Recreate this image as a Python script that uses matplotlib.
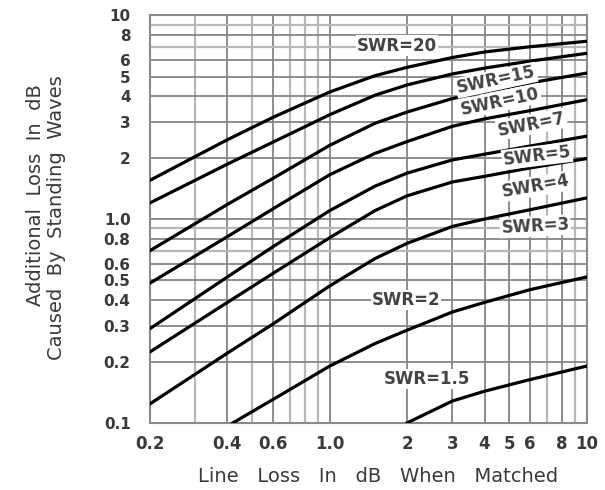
import numpy as np
import matplotlib
matplotlib.use('Agg')
import matplotlib.pyplot as plt
from matplotlib.ticker import FixedLocator, FixedFormatter, NullFormatter

# values (line loss when matched, dB -> additional loss, dB)
x_pts = [0.2, 0.4, 0.6, 1.0, 1.5, 2.0, 3.0, 4.0, 6.0, 10.0]
swr20 = [1.55, 2.45, 3.15, 4.2, 5.05, 5.55, 6.2, 6.6, 7.0, 7.45]
swr15 = [1.2, 1.86, 2.38, 3.25, 4.05, 4.55, 5.15, 5.5, 5.95, 6.5]
swr10 = [0.70, 1.18, 1.58, 2.3, 2.95, 3.35, 3.9, 4.2, 4.65, 5.2]
swr7 = [0.485, 0.82, 1.12, 1.65, 2.1, 2.4, 2.85, 3.1, 3.4, 3.85]
swr5 = [0.29, 0.52, 0.73, 1.1, 1.45, 1.68, 1.95, 2.08, 2.28, 2.55]
swr4 = [0.223, 0.39, 0.54, 0.81, 1.1, 1.3, 1.52, 1.62, 1.78, 1.98]
swr3 = [0.124, 0.22, 0.305, 0.47, 0.64, 0.76, 0.92, 1.0, 1.11, 1.27]
x_swr2 = [0.42, 0.6, 1.0, 1.5, 2.0, 3.0, 4.0, 6.0, 10.0]
swr2 = [0.1, 0.13, 0.19, 0.245, 0.285, 0.35, 0.39, 0.45, 0.52]
x_swr1_5 = [2.0, 3.0, 4.0, 6.0, 10.0]
swr1_5 = [0.1, 0.128, 0.143, 0.163, 0.19]

# label text, position (data coords), rotation
labels = ['SWR=20', 'SWR=15', 'SWR=10', 'SWR=7', 'SWR=5', 'SWR=4', 'SWR=3', 'SWR=2', 'SWR=1.5']
label_x = [1.83, 4.44, 4.6, 6.1, 6.4, 6.35, 6.3, 1.98, 2.39]
label_y = [7.1, 4.8, 3.78, 2.92, 2.04, 1.45, 0.92, 0.40, 0.164]
label_rot = [0, 12, 12, 11, 7, 10, 3, 0, 0]

xticks = [0.2, 0.4, 0.6, 1.0, 2, 3, 4, 5, 6, 8, 10]
xticklabels = ['0.2', '0.4', '0.6', '1.0', '2', '3', '4', '5', '6', '8', '10']
yticks = [0.1, 0.2, 0.3, 0.4, 0.5, 0.6, 0.8, 1.0, 2, 3, 4, 5, 6, 8, 10]
yticklabels = ['0.1', '0.2', '0.3', '0.4', '0.5', '0.6', '0.8', '1.0', '2', '3', '4', '5', '6', '8', '10']
minor_x = [0.3, 0.5, 0.7, 0.8, 0.9, 7, 9]
minor_y = [0.7, 0.9, 7, 9]

txtc = '#3a3a3a'
fig = plt.figure(figsize=(6.05, 4.9), dpi=100)
ax = fig.add_axes([0.248, 0.137, 0.722, 0.832])
ax.set_xscale('log')
ax.set_yscale('log')
ax.set_xlim(0.2, 10)
ax.set_ylim(0.1, 10)

# grid lines
for v in xticks:
    ax.axvline(v, color='#858585', lw=1.3, zorder=1)
for v in minor_x:
    ax.axvline(v, color='#b8b8b8', lw=1.6, zorder=1)
for v in yticks:
    ax.axhline(v, color='#858585', lw=1.3, zorder=1)
for v in minor_y:
    ax.axhline(v, color='#b8b8b8', lw=1.6, zorder=1)

for ys in [swr20, swr15, swr10, swr7, swr5, swr4, swr3]:
    ax.plot(x_pts, ys, color='black', lw=2.3, zorder=3)
ax.plot(x_swr2, swr2, color='black', lw=2.3, zorder=3)
ax.plot(x_swr1_5, swr1_5, color='black', lw=2.3, zorder=3)

for t, lx, ly, r in zip(labels, label_x, label_y, label_rot):
    ax.text(lx, ly, t, ha='center', va='center', rotation=r, fontsize=12,
            fontweight='bold', color='#444444', zorder=4,
            bbox=dict(facecolor='white', edgecolor='none', pad=0.8))

ax.xaxis.set_major_locator(FixedLocator(xticks))
ax.xaxis.set_major_formatter(FixedFormatter(xticklabels))
ax.xaxis.set_minor_formatter(NullFormatter())
ax.yaxis.set_major_locator(FixedLocator(yticks))
ax.yaxis.set_major_formatter(FixedFormatter(yticklabels))
ax.yaxis.set_minor_formatter(NullFormatter())
ax.tick_params(which='both', length=0, labelsize=12, labelcolor=txtc)
ax.tick_params(axis='y', pad=14, labelsize=11)
ax.tick_params(axis='x', pad=9)
for lab in ax.get_xticklabels() + ax.get_yticklabels():
    lab.set_fontweight('bold')
for s in ax.spines.values():
    s.set_color('#8a8a8a')
    s.set_linewidth(1.5)

fig.text(0.625, 0.028, 'Line   Loss   In   dB   When   Matched', ha='center', va='center',
         fontsize=14, color=txtc)
fig.text(0.058, 0.602, 'Additional  Loss  In  dB', ha='center', va='center',
         rotation=90, fontsize=14, color=txtc)
fig.text(0.094, 0.555, 'Caused  By  Standing  Waves', ha='center', va='center',
         rotation=90, fontsize=14, color=txtc)

fig.savefig('out.png', dpi=100)
